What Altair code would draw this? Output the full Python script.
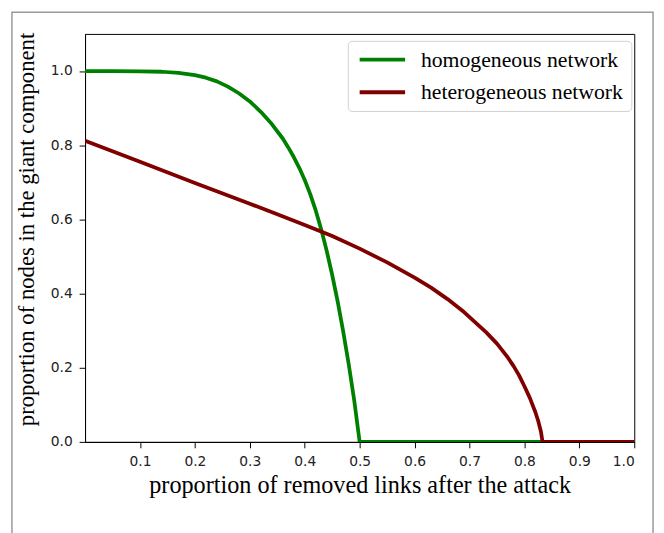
import altair as alt
import pandas as pd

# ---- data ----
series_names = ["homogeneous network", "heterogeneous network"]
series_colors = ["#008000", "#800000"]

homo_x = [0.0, 0.05, 0.10, 0.14, 0.17, 0.20, 0.22, 0.24, 0.26, 0.28, 0.30, 0.32, 0.34,
          0.36, 0.37, 0.38, 0.39, 0.40, 0.41, 0.42, 0.43, 0.44, 0.45, 0.46, 0.47,
          0.48, 0.49, 0.50, 1.0]
homo_y = [1.0, 1.0, 0.999, 0.998, 0.995, 0.989, 0.982, 0.972, 0.958, 0.940, 0.918, 0.890, 0.857,
          0.818, 0.794, 0.768, 0.739, 0.706, 0.668, 0.624, 0.573, 0.515, 0.450, 0.378, 0.298,
          0.210, 0.113, 0.0, 0.0]

hetero_x = [0.0, 0.10, 0.20, 0.30, 0.35, 0.40, 0.45, 0.50, 0.55, 0.60, 0.63, 0.66,
            0.69, 0.71, 0.73, 0.75, 0.77, 0.78, 0.79, 0.80, 0.81, 0.82, 0.825, 0.83,
            0.833, 1.0]
hetero_y = [0.812, 0.755, 0.698, 0.642, 0.614, 0.585, 0.555, 0.521, 0.484, 0.443, 0.416, 0.385,
            0.350, 0.323, 0.296, 0.265, 0.227, 0.205, 0.180, 0.150, 0.118, 0.080, 0.057, 0.028,
            0.0, 0.0]

x_ticks = [0.1, 0.2, 0.3, 0.4, 0.5, 0.6, 0.7, 0.8, 0.9, 1.0]
y_ticks = [0.0, 0.2, 0.4, 0.6, 0.8, 1.0]

x_title = "proportion of removed links after the attack"
y_title = "proportion of nodes in the giant component"

df = pd.concat([
    pd.DataFrame({"x": homo_x, "y": homo_y, "series": series_names[0]}),
    pd.DataFrame({"x": hetero_x, "y": hetero_y, "series": series_names[1]}),
], ignore_index=True)

W, H = 556, 413

color_scale = alt.Scale(domain=series_names, range=series_colors)

base = alt.Chart(df).mark_line(strokeWidth=3.8, clip=True, strokeJoin="round").encode(
    x=alt.X("x:Q", scale=alt.Scale(domain=[0, 1], nice=False),
            axis=alt.Axis(values=x_ticks, format=".1f", title=x_title, titlePadding=5,
                          titleFontSize=24.5)),
    y=alt.Y("y:Q", scale=alt.Scale(domain=[0, 1.1], nice=False),
            axis=alt.Axis(values=y_ticks, format=".1f", title=y_title, titlePadding=12,
                          titleFontSize=23, titleY=H / 2 - 9)),
    color=alt.Color("series:N", scale=color_scale, legend=alt.Legend(
        title=None, orient="none", legendX=266, legendY=7, direction="vertical",
        symbolType="M-3,0H3", symbolSize=235, symbolStrokeWidth=4, symbolOffset=16,
        labelFont="Liberation Serif", labelFontSize=22, labelColor="black",
        labelOffset=28, labelLimit=400, strokeColor="#d0d0d0", fillColor="white",
        cornerRadius=4, padding=8, rowPadding=11,
    )),
)

homo = base.transform_filter(alt.datum.series == series_names[0])
hetero = base.transform_filter(alt.datum.series == series_names[1])

frame = alt.Chart(pd.DataFrame({"k": [0]})).mark_rect(
    filled=False, stroke="#9a9a9a", strokeWidth=1.5
).encode(
    x=alt.value(-74), x2=alt.value(W + 19), y=alt.value(-22), y2=alt.value(H + 100)
)

chart = alt.layer(frame, homo, hetero).properties(
    width=W, height=H,
    autosize=alt.AutoSizeParams(type="none"),
    padding={"left": 78, "top": 23, "right": 22, "bottom": 89},
).configure_view(
    stroke="black", strokeWidth=1
).configure_axis(
    grid=False, domainColor="black", tickColor="black", tickSize=6,
    labelFont="DejaVu Sans", labelFontSize=14, labelColor="#222", labelPadding=7,
    titleFont="Liberation Serif", titleFontWeight="normal", titleColor="black",
)

chart.save("out.html", embed_options={"renderer": "svg", "actions": False})
